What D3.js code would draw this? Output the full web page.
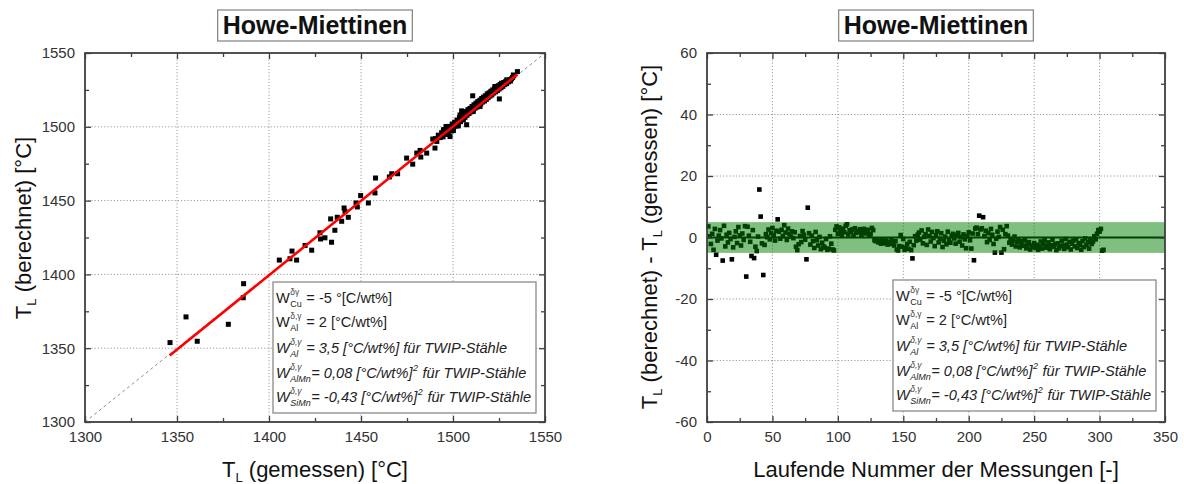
<!DOCTYPE html>
<html><head><meta charset="utf-8">
<script src="https://cdn.jsdelivr.net/npm/d3@7"></script>
<style>
body{margin:0;background:#fff;}
svg text{font-family:"Liberation Sans",Arial,sans-serif;white-space:pre;}
</style></head><body>
<svg id="c" width="1184" height="484"></svg>
<script>
// ---------------- DATA ----------------
const titleText = "Howe-Miettinen";
const leftXTicks = [1300,1350,1400,1450,1500,1550];
const leftYTicks = [1300,1350,1400,1450,1500,1550];
const rightXTicks = [0,50,100,150,200,250,300,350];
const rightYTicks = [-60,-40,-20,0,20,40,60];

// T_L gemessen (x) / berechnet (y)
const measured = [1346.2,1354.9,1361.0,1377.9,1386.0,1386.2,1405.6,1411.4,1412.5,1415.0,1419.6,1423.2,1427.7,1428.0,1430.4,1433.5,1434.0,1435.8,1437.1,1439.5,1440.8,1441.3,1443.1,1447.3,1448.0,1449.8,1454.0,1457.6,1457.9,1465.4,1466.7,1469.9,1474.8,1478.1,1480.3,1482.1,1482.5,1485.7,1489.0,1490.2,1494.8,1496.2,1498.4,1500.2,1502.9,1503.8,1504.7,1505.6,1507.4,1510.7,1511.0,1514.7,1516.5,1518.3,1521.0,1522.8,1525.2,1526.4,1529.2,1532.8,1535.0,
 1490.5,1491.2,1492.0,1493.1,1493.8,1494.6,1495.3,1496.0,1496.8,1497.5,1498.1,1498.9,1499.6,1500.2,1500.9,1501.5,1502.2,1502.8,1503.5,1504.1,1504.8,1505.3,1505.9,1506.5,1507.0,1507.6,1508.1,1508.7,1509.2,1509.8,1510.3,1510.9,1511.4,1512.0,1512.5,1513.0,1513.5,1514.0,1514.6,1515.1,1515.6,1516.1,1516.6,1517.1,1517.6,1518.1,1518.6,1519.1,1519.6,1520.1,1520.6,1521.1,1521.6,1522.1,1522.6,1523.1,1523.6,1524.1,1524.6,1525.1,1525.6,1526.1,1526.6,1527.1,1527.6,1528.1,1528.6,1529.1,1529.6,1530.1,1530.6,1531.2,1531.8,1532.4,1533.0];
const calculated = [1353.8,1371.2,1354.7,1366.2,1384.2,1393.7,1409.7,1410.6,1415.8,1409.7,1419.6,1416.4,1428.2,1424.0,1424.8,1437.6,1421.8,1429.9,1438.7,1436.0,1445.0,1442.8,1438.7,1448.4,1445.7,1453.4,1448.4,1455.2,1465.3,1466.0,1468.2,1468.2,1478.8,1474.7,1482.2,1484.0,1479.5,1482.2,1491.7,1485.6,1497.9,1500.2,1493.4,1497.4,1500.6,1508.0,1510.8,1504.7,1501.4,1521.0,1510.4,1513.8,1518.3,1520.5,1522.7,1527.3,1518.9,1529.5,1531.8,1535.1,1537.4,
 1492.0,1490.1,1494.3,1492.7,1496.0,1493.2,1498.1,1495.0,1497.6,1494.8,1500.3,1497.2,1501.9,1499.0,1503.1,1500.4,1504.6,1502.0,1506.2,1503.5,1507.9,1505.0,1509.1,1506.4,1510.3,1507.8,1511.6,1509.0,1512.4,1510.1,1513.7,1511.2,1514.9,1512.6,1516.0,1513.4,1517.1,1514.5,1518.0,1515.6,1519.2,1516.8,1520.1,1517.5,1521.0,1518.6,1522.3,1519.7,1523.0,1520.8,1524.1,1521.6,1525.0,1522.9,1526.2,1523.7,1527.0,1524.5,1527.8,1525.6,1528.7,1526.5,1529.3,1527.4,1530.0,1528.6,1530.6,1529.3,1531.2,1530.4,1531.8,1531.0,1532.5,1533.4,1534.6];
const fitX = [1346, 1535];
const fitY = [1345, 1535.5];

// Abweichung je laufender Nummer (1..303)
const residuals = [3.6,0.4,-2.1,1.2,-4.0,2.8,-5.6,-1.0,0.6,2.4,
-0.3,-7.5,3.8,-2.9,0.9,-1.6,1.5,-0.5,-7.1,-3.2,
0.2,2.0,-1.8,3.4,0.7,-2.6,1.3,-0.8,3.7,-12.7,
3.5,0.6,-1.4,-6.0,2.4,-6.7,-3.0,-4.4,0.3,15.6,
6.8,-1.9,-12.2,-2.4,1.1,0.1,2.6,-0.6,1.4,3.1,
0.8,-1.0,2.2,5.9,1.9,-0.4,2.5,0.5,4.0,1.6,
-0.8,2.9,1.2,0.3,2.0,-0.2,1.7,-3.0,-4.1,-2.2,
0.5,-1.5,2.1,0.9,-0.7,-7.1,9.7,1.4,-2.3,0.6,
-1.2,-3.4,1.8,-0.9,-2.6,0.2,-3.8,-1.7,-2.9,-3.3,
-0.5,-4.0,-3.6,0.4,-2.0,-3.9,-4.2,2.5,3.6,1.2,
3.3,2.1,0.8,2.9,1.7,3.8,4.3,1.0,2.4,1.9,
2.6,0.7,3.0,1.5,2.2,1.8,2.7,0.9,2.0,2.8,
1.3,1.6,2.5,0.6,1.1,3.1,2.4,-0.9,-1.2,-0.7,
-1.6,-1.1,-2.0,-0.8,-1.4,-1.9,-1.0,-2.3,-1.5,-2.1,
-0.6,-1.8,-2.6,-1.2,-3.9,-4.2,-2.8,0.8,-3.0,-0.5,
-4.0,-3.3,-2.1,-3.7,-1.4,-4.1,-6.8,-2.5,0.4,-1.0,
0.9,1.6,-0.7,2.3,-1.9,0.2,1.1,-2.4,2.6,0.5,
-1.3,1.8,-0.2,-2.8,0.7,2.0,-1.6,-0.4,1.4,-3.1,
-1.1,0.3,-2.2,1.9,-0.8,-1.7,0.6,1.2,-0.3,-2.0,
0.8,1.5,-1.4,0.1,-2.6,1.0,-0.6,-3.5,0.4,1.7,
-0.9,-3.6,1.3,-7.4,2.9,3.2,1.1,7.1,2.6,3.0,
6.6,0.5,2.2,-1.5,1.4,-0.8,2.8,0.9,-2.1,-4.9,
-0.4,1.9,0.2,3.4,-4.9,2.5,-3.8,1.1,3.7,0.6,
-1.7,-0.5,-2.3,-1.1,0.3,-2.9,-1.4,-0.6,-3.2,-2.0,
-1.2,-2.7,-0.8,-3.5,-2.2,-1.5,-3.9,-2.6,-3.1,-1.8,
-3.4,-2.4,-4.0,-2.9,-1.3,-3.6,-2.1,-0.9,-3.3,-2.7,
-1.6,-3.8,-2.5,-0.7,-3.0,-2.2,-4.1,-1.9,-3.5,-2.8,
-1.1,-2.6,-3.7,-0.5,-2.3,-3.2,-1.4,-3.9,-2.0,-1.0,
-2.9,-0.6,-3.4,-1.8,-2.4,-4.0,-1.2,-3.1,-0.3,-2.5,
-1.5,-3.6,-0.8,-2.1,-1.3,0.4,-0.6,1.2,2.4,1.9,
2.8,-4.3,-4.0];
const toleranceBand = [-5, 5];

const legendRows = [
  {sub:"Cu", sup:"\u03b4\u03b3", text:" = -5 \u00b0[C/wt%]", italic:false, tail:""},
  {sub:"Al", sup:"\u03b4,\u03b3", text:" = 2 [\u00b0C/wt%]", italic:false, tail:""},
  {sub:"Al", sup:"\u03b4,\u03b3", text:" = 3,5 [\u00b0C/wt%] f\u00fcr TWIP-St\u00e4hle", italic:true, tail:""},
  {sub:"AlMn", sup:"\u03b4,\u03b3", text:"= 0,08 [\u00b0C/wt%]", italic:true, tail:" f\u00fcr TWIP-St\u00e4hle"},
  {sub:"SiMn", sup:"\u03b4,\u03b3", text:"= -0,43 [\u00b0C/wt%]", italic:true, tail:" f\u00fcr TWIP-St\u00e4hle"}
];

// ---------------- DRAW ----------------
const svg = d3.select("#c");
const FRAME = "#404040";
const fmt = d => String(d);
const LF = "14.6px";

function minorOf(t){ const r=[]; for(let i=0;i<t.length-1;i++) r.push((t[i]+t[i+1])/2); return r; }

function panel(o){
  const g = svg.append("g");
  const x = d3.scaleLinear().domain(o.xd).range([o.x0,o.x1]);
  const y = d3.scaleLinear().domain(o.yd).range([o.y1,o.y0]);
  g.selectAll(".gx").data(o.xt.slice(1,-1)).enter().append("line")
    .attr("x1",d=>x(d)).attr("x2",d=>x(d)).attr("y1",o.y0).attr("y2",o.y1)
    .attr("stroke","#9a9a9a").attr("stroke-width",1).attr("stroke-dasharray","1.2,2");
  g.selectAll(".gy").data(o.yt.slice(1,-1).filter(d=>!(o.noGridY||[]).includes(d))).enter().append("line")
    .attr("y1",d=>y(d)).attr("y2",d=>y(d)).attr("x1",o.x0).attr("x2",o.x1)
    .attr("stroke","#9a9a9a").attr("stroke-width",1).attr("stroke-dasharray","1.2,2");
  return {g,x,y};
}

function axesFrame(p,o){
  const {g,x,y} = p;
  const style = sel => { sel.select(".domain").remove(); sel.selectAll("line").attr("stroke",FRAME).attr("stroke-width",1.3);
    sel.selectAll("text").attr("fill","#333").style("font-size","15px"); };
  g.append("g").attr("transform",`translate(0,${o.y1})`).call(d3.axisBottom(x).tickValues(o.xt).tickSize(-6).tickPadding(9).tickFormat(fmt)).call(style);
  g.append("g").attr("transform",`translate(0,${o.y1})`).call(d3.axisBottom(x).tickValues(minorOf(o.xt)).tickSize(-4).tickFormat("")).call(style);
  g.append("g").attr("transform",`translate(0,${o.y0})`).call(d3.axisTop(x).tickValues(o.xt).tickSize(-6).tickFormat("")).call(style);
  g.append("g").attr("transform",`translate(0,${o.y0})`).call(d3.axisTop(x).tickValues(minorOf(o.xt)).tickSize(-4).tickFormat("")).call(style);
  g.append("g").attr("transform",`translate(${o.x0},0)`).call(d3.axisLeft(y).tickValues(o.yt).tickSize(-6).tickPadding(10).tickFormat(fmt)).call(style);
  g.append("g").attr("transform",`translate(${o.x0},0)`).call(d3.axisLeft(y).tickValues(minorOf(o.yt)).tickSize(-4).tickFormat("")).call(style);
  g.append("g").attr("transform",`translate(${o.x1},0)`).call(d3.axisRight(y).tickValues(o.yt).tickSize(-6).tickFormat("")).call(style);
  g.append("g").attr("transform",`translate(${o.x1},0)`).call(d3.axisRight(y).tickValues(minorOf(o.yt)).tickSize(-4).tickFormat("")).call(style);
  g.append("rect").attr("x",o.x0).attr("y",o.y0).attr("width",o.x1-o.x0).attr("height",o.y1-o.y0)
    .attr("fill","none").attr("stroke",FRAME).attr("stroke-width",1.8);
}

function title(cx){
  const g = svg.append("g");
  const box = g.append("rect");
  const t = g.append("text").attr("x",cx).attr("y",34).attr("text-anchor","middle")
    .style("font-size","25px").style("font-weight","bold").attr("fill","#111").text(titleText);
  const w = t.node().getComputedTextLength();
  box.attr("x",cx-w/2-5).attr("y",10).attr("width",w+10).attr("height",31)
    .attr("fill","#fff").attr("stroke","#8a8a8a").attr("stroke-width",1.3);
}

function legend(bx,by){
  const g = svg.append("g");
  g.append("rect").attr("x",bx).attr("y",by).attr("width",263).attr("height",131)
    .attr("fill","#fff").attr("stroke","#8a8a8a").attr("stroke-width",1.3);
  const base = [21,45,71,96,120];
  legendRows.forEach((r,i)=>{
    const yb = by+base[i], x0 = bx+3;
    const st = r.italic ? "italic" : "normal";
    const w = g.append("text").attr("x",x0).attr("y",yb).style("font-size",LF).style("font-style",st).attr("fill","#222").text("W");
    const ww = w.node().getComputedTextLength();
    const sp = g.append("text").attr("x",x0+ww+0.5).attr("y",yb-8).style("font-size","8.5px").style("font-style",st).attr("fill","#444").text(r.sup);
    const sb = g.append("text").attr("x",x0+ww+0.5).attr("y",yb+4).style("font-size","9px").style("font-style",st).attr("fill","#222").text(r.sub);
    const off = Math.max(sp.node().getComputedTextLength(), sb.node().getComputedTextLength());
    const t = g.append("text").attr("x",x0+ww+1+off).attr("y",yb).style("font-size",LF).style("font-style",st).attr("fill","#222").text(r.text);
    if(r.tail){
      const tx = x0+ww+1+off+t.node().getComputedTextLength();
      const s2 = g.append("text").attr("x",tx+0.5).attr("y",yb-7).style("font-size","9px").style("font-style",st).attr("fill","#222").text("2");
      g.append("text").attr("x",tx+1+s2.node().getComputedTextLength()).attr("y",yb).style("font-size",LF).style("font-style",st).attr("fill","#222").text(r.tail);
    }
  });
}

function addParts(t, parts){
  parts.forEach(p=>{ const s=t.append("tspan").text(p.t); if(p.sub){ s.style("font-size","13px").attr("dy",5);} else if(p.after){ s.attr("dy",-5);} });
}
function xLabel(cx, parts){
  const t = svg.append("text").attr("x",cx).attr("y",477).attr("text-anchor","middle").style("font-size","22px").attr("fill","#111");
  addParts(t, parts);
}
function yLabel(cx, cy, parts){
  const t = svg.append("text").attr("transform",`translate(${cx},${cy}) rotate(-90)`).attr("text-anchor","middle").style("font-size","22px").attr("fill","#111");
  addParts(t, parts);
}

// ----- Left panel -----
const L = {x0:85,x1:545,y0:53,y1:422,xd:[1300,1550],yd:[1300,1550],xt:leftXTicks,yt:leftYTicks};
const pl = panel(L);
pl.g.append("line").attr("x1",pl.x(1300)).attr("y1",pl.y(1300)).attr("x2",pl.x(1550)).attr("y2",pl.y(1550))
  .attr("stroke","#8c8c8c").attr("stroke-width",1).attr("stroke-dasharray","3,3");
pl.g.selectAll(".pt").data(measured.map((m,i)=>[m,calculated[i]])).enter().append("rect")
  .attr("x",d=>pl.x(d[0])-2.5).attr("y",d=>pl.y(d[1])-2.5).attr("width",5).attr("height",5).attr("fill","#000");
pl.g.append("line").attr("x1",pl.x(fitX[0])).attr("y1",pl.y(fitY[0])).attr("x2",pl.x(fitX[1])).attr("y2",pl.y(fitY[1]))
  .attr("stroke","#ff0000").attr("stroke-width",2.6);
axesFrame(pl,L);

// ----- Right panel -----
const R = {x0:707,x1:1165,y0:53,y1:422,xd:[0,350],yd:[-60,60],xt:rightXTicks,yt:rightYTicks,noGridY:[0]};
const pr = panel(R);
pr.g.append("line").attr("x1",R.x0).attr("x2",R.x1).attr("y1",pr.y(0)).attr("y2",pr.y(0)).attr("stroke","#000").attr("stroke-width",1.8);
pr.g.selectAll(".pt").data(residuals).enter().append("rect")
  .attr("x",(d,i)=>pr.x(i+1)-2.3).attr("y",d=>pr.y(d)-2.3).attr("width",4.6).attr("height",4.6).attr("fill","#000");
pr.g.append("rect").attr("x",R.x0).attr("width",R.x1-R.x0).attr("y",pr.y(toleranceBand[1])).attr("height",pr.y(toleranceBand[0])-pr.y(toleranceBand[1]))
  .attr("fill","#008000").attr("fill-opacity",0.5);
axesFrame(pr,R);

title(315); title(936);
legend(273,282); legend(893,280);
xLabel(315,[{t:"T"},{t:"L",sub:true},{t:" (gemessen) [\u00b0C]",after:true}]);
xLabel(936,[{t:"Laufende Nummer der Messungen [-]"}]);
yLabel(31,228,[{t:"T"},{t:"L",sub:true},{t:" (berechnet) [\u00b0C]",after:true}]);
yLabel(657,237,[{t:"T"},{t:"L",sub:true},{t:" (berechnet) - T",after:true},{t:"L",sub:true},{t:" (gemessen) [\u00b0C]",after:true}]);
</script>
</body></html>
